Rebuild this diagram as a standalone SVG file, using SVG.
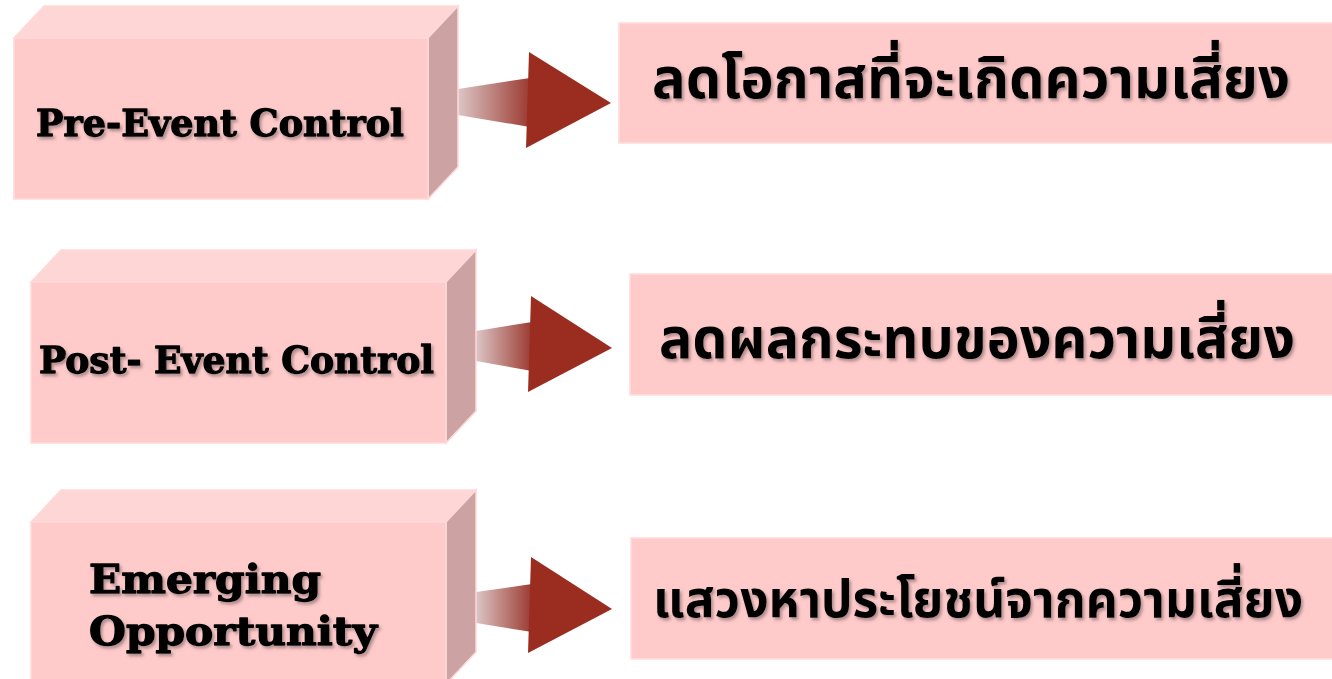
<svg xmlns="http://www.w3.org/2000/svg" width="1332" height="679" viewBox="0 0 1332 679">
  <style>
    .front { fill: #ffcaca; stroke: #ffd9d9; stroke-width: 1.5; }
    .top { fill: #ffd6d6; stroke: #ffd9d9; stroke-width: 1.5; }
    .side { fill: #cda2a2; stroke: #ffd9d9; stroke-width: 1.5; }
    .panel { fill: #ffcaca; stroke: #ffdcdc; stroke-width: 1.5; }
    .en { font-family: "DejaVu Serif", "Liberation Serif", serif; font-weight: bold; fill: #000; stroke: #000; stroke-width: 1.3; stroke-linejoin: round; }
    .th { font-family: "Noto Sans Thai", "Noto Sans", "Leelawadee UI", sans-serif; font-weight: bold; fill: #000; }
    .head { fill: #9b2d20; }
  </style>
  <defs>
    <filter id="shadow" x="-5%" y="-20%" width="110%" height="150%">
      <feDropShadow dx="2" dy="2.5" stdDeviation="1.6" flood-color="#6d5a5a" flood-opacity="0.55"/>
    </filter>
    <linearGradient id="shaft" x1="0" y1="0" x2="1" y2="0">
      <stop offset="0" stop-color="#dcc6c6"/>
      <stop offset="1" stop-color="#9b3a30"/>
    </linearGradient>
  </defs>

  <!-- connectors: tapered shafts with triangular heads -->
  <g id="connectors">
    <polygon points="458,89 530,78 530,127 458,115" fill="url(#shaft)"/>
    <polygon class="head" points="529,52 611,103 526,148"/>
    <polygon points="476,331 532,322 532,371 476,361" fill="url(#shaft)"/>
    <polygon class="head" points="531,296 612,348 528,392"/>
    <polygon points="476,592 532,584 532,632 476,623" fill="url(#shaft)"/>
    <polygon class="head" points="531,557 612,609 528,653"/>
  </g>

  <!-- left column: extruded blocks -->
  <g id="pre-event">
    <polygon class="top" points="14,38 44,6 458,6 428,38"/>
    <polygon class="side" points="428,38 458,6 458,167 428,199"/>
    <rect class="front" x="14" y="38" width="414" height="161"/>
    <text class="en" x="36" y="136" font-size="37" textLength="368" lengthAdjust="spacingAndGlyphs" filter="url(#shadow)">Pre-Event Control</text>
  </g>

  <g id="post-event">
    <polygon class="top" points="31,282 61,250 476,250 446,282"/>
    <polygon class="side" points="446,282 476,250 476,411 446,443"/>
    <rect class="front" x="31" y="282" width="415" height="161"/>
    <text class="en" x="39" y="373" font-size="38" textLength="395" lengthAdjust="spacingAndGlyphs" filter="url(#shadow)">Post- Event Control</text>
  </g>

  <g id="emerging">
    <polygon class="top" points="31,522 61,490 476,490 446,522"/>
    <polygon class="side" points="446,522 476,490 476,652 446,684"/>
    <rect class="front" x="31" y="522" width="415" height="162"/>
    <text class="en" x="89" y="593" font-size="39" textLength="232" lengthAdjust="spacingAndGlyphs" filter="url(#shadow)">Emerging</text>
    <text class="en" x="89" y="645" font-size="39" textLength="288" lengthAdjust="spacingAndGlyphs" filter="url(#shadow)">Opportunity</text>
  </g>

  <!-- right column: outcome panels -->
  <g id="reduce-likelihood">
    <rect class="panel" x="619" y="23" width="716" height="120"/>
    <text class="th" x="652" y="98" font-size="56" textLength="638" lengthAdjust="spacingAndGlyphs" filter="url(#shadow)">ลดโอกาสที่จะเกิดความเสี่ยง</text>
  </g>

  <g id="reduce-impact">
    <rect class="panel" x="630" y="274" width="705" height="121"/>
    <text class="th" x="659" y="358" font-size="56" textLength="636" lengthAdjust="spacingAndGlyphs" filter="url(#shadow)">ลดผลกระทบของความเสี่ยง</text>
  </g>

  <g id="seek-benefit">
    <rect class="panel" x="631" y="538" width="704" height="121"/>
    <text class="th" x="653" y="617" font-size="52" textLength="650" lengthAdjust="spacingAndGlyphs" filter="url(#shadow)">แสวงหาประโยชน์จากความเสี่ยง</text>
  </g>
</svg>
